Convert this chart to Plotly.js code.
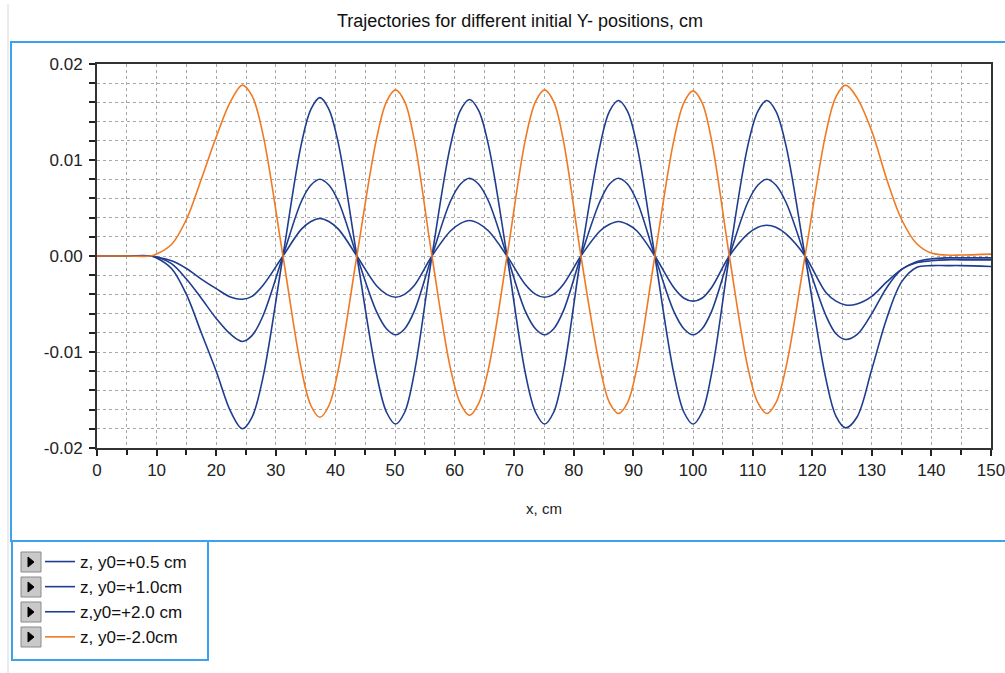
<!DOCTYPE html>
<html>
<head>
<meta charset="utf-8">
<script src="https://cdn.plot.ly/plotly-3.0.1.min.js"></script>
<style>
  html, body { margin: 0; padding: 0; background: #ffffff; }
  #chart { width: 1005px; height: 673px; }
</style>
</head>
<body>
<div id="chart"></div>
<script>
// ---- data ----
const xPos = [
  0, 5, 9, 10, 12.5, 15, 17.5, 20, 22.5,
  24.4, 26.0, 27.8, 31.2,
  34.3, 35.9, 37.4, 38.9, 40.5, 43.6,
  46.9, 48.6, 50.1, 51.6, 53.2, 56.2,
  59.3, 61.0, 62.5, 64.0, 65.7, 68.8,
  71.9, 73.6, 75.1, 76.6, 78.2, 81.2,
  84.4, 86.0, 87.5, 89.0, 90.6, 93.6,
  96.8, 98.5, 100, 101.5, 103.1, 106.1,
  109.2, 110.9, 112.4, 113.9, 115.6, 118.8,
  122.3, 124.0, 125.6, 127.5, 130, 132.5, 135, 137.5, 140, 142.5, 145, 150];

const zPlus05 = [
  0, 0, 0, -0.0001, -0.0005, -0.0013, -0.0024, -0.0034, -0.0043,
  -0.0045, -0.0042, -0.0031, 0,
  0.0028, 0.0036, 0.0039, 0.0036, 0.0028, 0,
  -0.0031, -0.0040, -0.0043, -0.0040, -0.0031, 0,
  0.0026, 0.0034, 0.0037, 0.0034, 0.0026, 0,
  -0.0030, -0.0040, -0.0043, -0.0040, -0.0030, 0,
  0.0026, 0.0033, 0.0036, 0.0033, 0.0026, 0,
  -0.0033, -0.0044, -0.0047, -0.0044, -0.0033, 0,
  0.0023, 0.0030, 0.0032, 0.0030, 0.0023, 0,
  -0.0038, -0.0047, -0.0051, -0.0050, -0.0042, -0.0027, -0.0014, -0.0006, -0.0003, -0.0002, -0.0002, -0.0002];

const zPlus10 = [
  0, 0, 0, -0.0001, -0.0008, -0.0024, -0.0044, -0.0065, -0.0082,
  -0.0089, -0.0083, -0.0063, 0,
  0.0057, 0.0074, 0.0080, 0.0074, 0.0057, 0,
  -0.0058, -0.0076, -0.0082, -0.0076, -0.0058, 0,
  0.0057, 0.0075, 0.0081, 0.0075, 0.0057, 0,
  -0.0058, -0.0076, -0.0082, -0.0076, -0.0058, 0,
  0.0057, 0.0075, 0.0081, 0.0075, 0.0057, 0,
  -0.0058, -0.0076, -0.0082, -0.0076, -0.0058, 0,
  0.0056, 0.0074, 0.0080, 0.0074, 0.0056, 0,
  -0.0062, -0.0081, -0.0087, -0.0082, -0.0060, -0.0033, -0.0014, -0.0007, -0.0005, -0.0004, -0.0004, -0.0004];

const zPlus20 = [
  0, 0, 0, -0.0002, -0.0013, -0.0040, -0.0080, -0.0120, -0.0163,
  -0.0180, -0.0168, -0.0128, 0,
  0.0117, 0.0153, 0.0165, 0.0153, 0.0117, 0,
  -0.0123, -0.0163, -0.0175, -0.0163, -0.0123, 0,
  0.0115, 0.0152, 0.0163, 0.0152, 0.0115, 0,
  -0.0123, -0.0163, -0.0175, -0.0163, -0.0123, 0,
  0.0115, 0.0151, 0.0162, 0.0151, 0.0115, 0,
  -0.0123, -0.0163, -0.0175, -0.0163, -0.0123, 0,
  0.0115, 0.0151, 0.0162, 0.0151, 0.0115, 0,
  -0.0128, -0.0167, -0.0179, -0.0168, -0.0118, -0.0065, -0.0027, -0.0012, -0.0010, -0.0010, -0.0010, -0.0011];

const zMinus20 = [
  0, 0, 0, 0.0002, 0.0012, 0.0038, 0.0080, 0.0124, 0.0162,
  0.0178, 0.0167, 0.0128, 0,
  -0.0118, -0.0156, -0.0168, -0.0156, -0.0118, 0,
  0.0122, 0.0161, 0.0173, 0.0161, 0.0122, 0,
  -0.0117, -0.0154, -0.0166, -0.0154, -0.0117, 0,
  0.0122, 0.0161, 0.0173, 0.0161, 0.0122, 0,
  -0.0116, -0.0153, -0.0164, -0.0153, -0.0116, 0,
  0.0121, 0.0160, 0.0172, 0.0160, 0.0121, 0,
  -0.0116, -0.0153, -0.0164, -0.0153, -0.0116, 0,
  0.0128, 0.0166, 0.0178, 0.0165, 0.0130, 0.0080, 0.0038, 0.0013, 0.0003, 0.0001, 0.0001, 0.0002];

const seriesNames = ['z, y0=+0.5 cm', 'z, y0=+1.0cm', 'z,y0=+2.0 cm', 'z, y0=-2.0cm'];
const seriesValues = [zPlus05, zPlus10, zPlus20, zMinus20];
const seriesColors = ['#1f3d8f', '#1f3d8f', '#1f3d8f', '#f07a22'];

const xTickVals = [0, 10, 20, 30, 40, 50, 60, 70, 80, 90, 100, 110, 120, 130, 140, 150];
const xTickText = ['0', '10', '20', '30', '40', '50', '60', '70', '80', '90', '100', '110', '120', '130', '140', '150'];
const yTickVals = [0.02, 0.01, 0, -0.01, -0.02];
const yTickText = ['0.02', '0.01', '0.00', '-0.01', '-0.02'];

const titleText = 'Trajectories for different initial Y- positions, cm';
const xTitleText = 'x, cm';

// ---- geometry helpers (pixel -> paper) ----
const W = 1005, H = 673;
const M = { l: 97, r: 14, t: 64, b: 225 };
const PW = W - M.l - M.r, PH = H - M.t - M.b;
const px = v => (v - M.l) / PW;
const py = v => (H - M.b - v) / PH;

const traces = seriesValues.map((vals, i) => ({
  type: 'scatter',
  mode: 'lines',
  name: seriesNames[i],
  x: xPos,
  y: vals,
  line: { color: seriesColors[i], width: 1.6, shape: 'spline', smoothing: 1 },
  hoverinfo: 'x+y+name'
}));

const shapes = [];
// outer blue frame
shapes.push({ type: 'rect', xref: 'paper', yref: 'paper', x0: px(11), x1: px(1012), y0: py(541), y1: py(42),
  line: { color: '#3aa2ee', width: 2 }, fillcolor: 'rgba(0,0,0,0)', layer: 'below' });
// legend frame
shapes.push({ type: 'rect', xref: 'paper', yref: 'paper', x0: px(12), x1: px(208), y0: py(660), y1: py(541),
  line: { color: '#3aa2ee', width: 2 }, fillcolor: 'rgba(0,0,0,0)' });
// faint window edge on the left
shapes.push({ type: 'line', xref: 'paper', yref: 'paper', x0: px(8), x1: px(8), y0: py(673), y1: py(4),
  line: { color: '#d8d8d8', width: 1 } });
// legend buttons
const rowCenters = [562, 587, 612, 637];
rowCenters.forEach(cy => {
  shapes.push({ type: 'rect', xref: 'paper', yref: 'paper', x0: px(21), x1: px(41), y0: py(cy + 10), y1: py(cy - 10),
    line: { color: '#8a8a8a', width: 1 }, fillcolor: '#c9c9c9' });
  shapes.push({ type: 'path', xref: 'paper', yref: 'paper',
    path: 'M ' + px(28) + ' ' + py(cy - 5) + ' L ' + px(34) + ' ' + py(cy) + ' L ' + px(28) + ' ' + py(cy + 5) + ' Z',
    line: { color: '#000000', width: 1 }, fillcolor: '#000000' });
});

const FAM = 'Liberation Sans, Arial, sans-serif';
const tickFont = { family: FAM, size: 17, color: '#222222' };

const layout = {
  width: W, height: H,
  margin: M,
  paper_bgcolor: '#ffffff',
  plot_bgcolor: '#ffffff',
  font: { family: FAM, size: 14, color: '#222222' },
  title: { text: titleText, x: 520 / W, xref: 'container', xanchor: 'center', y: 1 - 21 / H, yref: 'container', yanchor: 'middle',
    font: { family: FAM, size: 18, color: '#111111' } },
  xaxis: {
    range: [0, 150], tickmode: 'array', tickvals: xTickVals, ticktext: xTickText,
    ticks: 'outside', ticklen: 6, tickwidth: 2, tickcolor: '#222',
    ticklabeloverflow: 'allow',
    showline: true, linecolor: '#333333', linewidth: 2, mirror: true,
    showgrid: true, gridcolor: '#a8a8a8', griddash: 'dot', gridwidth: 1,
    zeroline: false,
    minor: { dtick: 5, tick0: 0, ticks: 'outside', ticklen: 5, tickwidth: 2, tickcolor: '#222', showgrid: true, gridcolor: '#a8a8a8', griddash: 'dot', gridwidth: 1 },
    title: { text: xTitleText, standoff: 24, font: { family: FAM, size: 15, color: '#222222' } },
    tickfont: tickFont
  },
  yaxis: {
    range: [-0.02, 0.02], tickmode: 'array', tickvals: yTickVals, ticktext: yTickText,
    ticks: 'outside', ticklen: 6, tickwidth: 2, tickcolor: '#222',
    ticklabelstandoff: 3, ticklabeloverflow: 'allow',
    showline: true, linecolor: '#333333', linewidth: 2, mirror: true,
    showgrid: true, gridcolor: '#a8a8a8', griddash: 'dot', gridwidth: 1,
    zeroline: false,
    minor: { dtick: 0.002, tick0: 0, ticks: 'outside', ticklen: 6, tickwidth: 2, tickcolor: '#222', showgrid: true, gridcolor: '#a8a8a8', griddash: 'dot', gridwidth: 1 },
    tickfont: tickFont
  },
  showlegend: true,
  legend: {
    x: px(40), y: py(544), xanchor: 'left', yanchor: 'top',
    bgcolor: 'rgba(0,0,0,0)', borderwidth: 0,
    font: { family: FAM, size: 17, color: '#111111' },
    itemwidth: 30, traceorder: 'normal'
  },
  shapes: shapes
};

Plotly.newPlot('chart', traces, layout, { displayModeBar: false });
</script>
</body>
</html>
